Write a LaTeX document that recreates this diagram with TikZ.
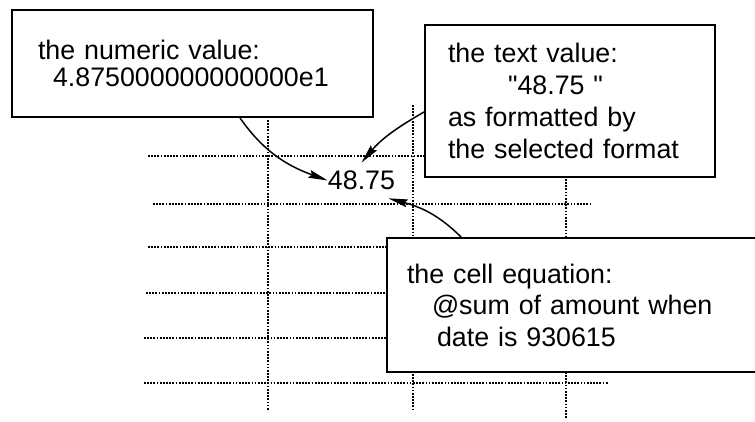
\documentclass[tikz,border=0pt]{standalone}
\usepackage{fontspec}
\setmainfont{Liberation Sans}
\usetikzlibrary{arrows.meta}
\tikzset{note/.style={draw, line width=1.1pt, fill=white, align=left, inner ysep=0pt}}
\tikzset{gridline/.style={line width=1pt, dash pattern=on 1pt off 0.8pt}}
\tikzset{pointer/.style={line width=0.85pt, -{Stealth[length=11pt, width=4.5pt, inset=1.5pt]}}}

\begin{document}
\begin{tikzpicture}[font=\fontsize{15.25}{17.9}\selectfont]
            \useasboundingbox (0,0) rectangle (15.1,8.44);
            \clip (0,0) rectangle (15.1,8.44);
            \draw[gridline] (2.96,5.32) -- (8.5,5.32);
            \draw[gridline] (3.06,4.36) -- (11.82,4.36);
            \draw[gridline] (2.96,3.5) -- (8.0,3.5);
            \draw[gridline] (2.92,2.58) -- (8.0,2.58);
            \draw[gridline] (2.88,1.68) -- (8.0,1.68);
            \draw[gridline] (2.88,0.78) -- (12.16,0.78);
            \draw[gridline] (5.36,6.04) -- (5.36,0.24);
            \draw[gridline] (8.26,6.34) -- (8.26,0.24);
            \draw[gridline] (11.32,6.0) -- (11.32,0.08);
            \node[note, text width=6.18cm, inner xsep=0.52cm, minimum height=2.14cm, font=\fontsize{15.25}{15.4}\selectfont] (num) at (3.85,7.17) {the numeric value:\\ \hspace*{0.3cm}4.875000000000000e1};
            \node[note, text width=4.88cm, inner xsep=0.46cm, minimum height=3.04cm, font=\fontsize{15.25}{18.2}\selectfont] (txt) at (11.4,6.42) {the text value:\\ \hspace*{1.2cm}\textquotedbl48.75\ \textquotedbl\\ as formatted by\\ the selected format};
            \node[note, text width=7.26cm, inner xsep=0.4cm, minimum height=2.68cm] (eqn) at (11.77,2.34) {the cell equation:\\ \hspace*{0.5cm}@sum of amount when\\ \hspace*{0.6cm}date is 930615};
            \node[inner xsep=0pt, inner ysep=0.16cm] (val) at (7.23,4.83) {48.75};
            \draw[pointer] ([xshift=0.95cm]num.south) to[out=-55, in=160] (val.west);
            \draw[pointer] ([yshift=-0.22cm]txt.west) to[out=210, in=50] (val.north);
            \draw[pointer] ([xshift=1.5cm]eqn.north west) to[out=135, in=-15] ([xshift=-0.14cm]val.south east);
        \end{tikzpicture}
\end{document}
